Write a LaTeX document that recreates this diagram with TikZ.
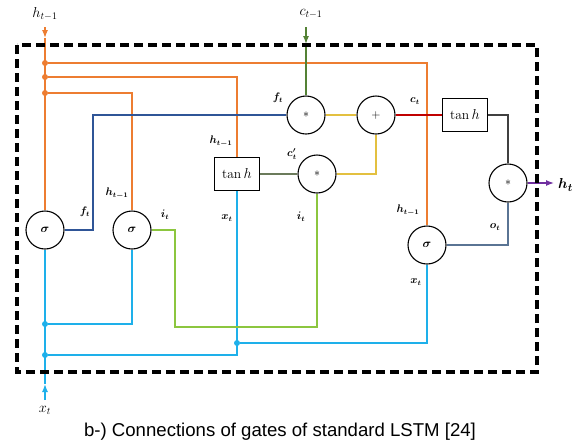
\documentclass[tikz,border=0pt]{standalone}
\usepackage{amsmath}
\usepackage{bm}
\usepackage{fontspec}
\newfontfamily\capfont{Liberation Sans}
\usetikzlibrary{arrows.meta}
\definecolor{corange}{HTML}{ED7D31}
\definecolor{cnavy}{HTML}{2F5597}
\definecolor{ccyan}{HTML}{1EB0EA}
\definecolor{clgreen}{HTML}{8CC63F}
\definecolor{cgold}{HTML}{E3C040}
\definecolor{cred}{HTML}{C00000}
\definecolor{cdgray}{HTML}{404040}
\definecolor{colive}{HTML}{6B7B5B}
\definecolor{cslate}{HTML}{5A7494}
\definecolor{cdgreen}{HTML}{548235}
\definecolor{cpurple}{HTML}{7030A0}
\begin{document}
\begin{tikzpicture}[x=1pt,y=-1pt,
  circ/.style={circle, draw=black, line width=1.1pt, minimum size=38pt, inner sep=0pt, font=\fontsize{13}{15}\selectfont},
  tbox/.style={draw=black, line width=1pt, minimum width=45pt, minimum height=33pt, inner sep=0pt, font=\fontsize{13.5}{15}\selectfont},
  lab/.style={inner sep=0pt, font=\fontsize{10.5}{12}\selectfont},
  biglab/.style={inner sep=0pt, font=\fontsize{14}{16}\selectfont},
  jdot/.style={circle, fill, inner sep=0pt, minimum size=6pt},
  conn/.style={line width=1.1pt},
  arr/.style={line width=1.3pt, -{Latex[length=8pt,width=6pt]}}
]
\useasboundingbox (0,0) rectangle (577,445);

% nodes
\node[circ] (sig1) at (45,230) {$\bm{\sigma}$};
\node[circ] (sig2) at (132,230) {$\bm{\sigma}$};
\node[circ] (sig3) at (427,245) {$\bm{\sigma}$};
\node[circ] (m1) at (306,115) {$*$};
\node[circ] (plus) at (376,115) {$+$};
\node[circ] (m2) at (317,174) {$*$};
\node[circ] (m3) at (508,183) {$*$};
\node[tbox] (box1) at (237,174) {$\tan h$};
\node[tbox] (box2) at (465,115) {$\tan h$};

% orange h_{t-1}
\coordinate (htop) at (45,27);
\coordinate (htip) at (45,38);
\node[jdot, corange] (od1) at (45,63) {};
\node[jdot, corange] (od2) at (45,77) {};
\node[jdot, corange] (od3) at (45,93) {};
\draw[arr, corange] (htop) -- (htip);
\draw[conn, corange] (htip) -- (sig1.north);
\draw[conn, corange] (od1) -| (sig3.north);
\draw[conn, corange] (od2) -| (box1.north);
\draw[conn, corange] (od3) -| (sig2.north);

% cyan x_t
\coordinate (xbot) at (45,400);
\coordinate (xtip) at (45,384);
\node[jdot, ccyan] (xd1) at (45,324) {};
\node[jdot, ccyan] (xd2) at (45,355) {};
\node[jdot, ccyan] (xd3) at (237,343) {};
\draw[arr, ccyan] (xbot) -- (xtip);
\draw[conn, ccyan] (xtip) -- (sig1.south);
\draw[conn, ccyan] (xd1) -| (sig2.south);
\draw[conn, ccyan] (xd2) -| (box1.south);
\draw[conn, ccyan] (xd3) -| (sig3.south);

% navy f_t
\coordinate (n1) at (93,230);
\coordinate (n2) at (93,115);
\draw[conn, cnavy] (sig1.east) -- (n1) -- (n2) -- (m1.west);

% green i_t
\coordinate (g1) at (175,230);
\coordinate (g2) at (175,327);
\draw[conn, clgreen] (sig2.east) -- (g1) -- (g2) -| (m2.south);

% c_{t-1}
\coordinate (ctop) at (306,27);
\coordinate (ctip) at (306,44);
\draw[arr, cdgreen] (ctop) -- (ctip);
\draw[conn, cdgreen] (ctip) -- (m1.north);

% cell path
\draw[conn, cgold] (m1.east) -- (plus.west);
\draw[conn, cgold] (m2.east) -| (plus.south);
\draw[conn, colive] (box1.east) -- (m2.west);
\draw[conn, cred] (plus.east) -- (box2.west);
\draw[conn, cdgray] (box2.east) -| (m3.north);
\draw[conn, cslate] (sig3.east) -| (m3.south);
\coordinate (hout) at (554,183);
\draw[arr, cpurple] (m3.east) -- (hout);

% dashed frame
\draw[line width=3.2pt, dash pattern=on 9pt off 5pt] (17,45) rectangle (537,372);

% labels
\node[biglab] (lh) at (45,14) {$h_{t-1}$};
\node[biglab] (lc) at (311,14) {$c_{t-1}$};
\node[biglab] (lx) at (45,410) {$x_t$};
\node[biglab, font=\fontsize{15}{17}\selectfont, anchor=west] (lht) at (558,185) {$\bm{h_t}$};
\node[lab] (lf1) at (278,98) {$\bm{f_t}$};
\node[lab] (lct) at (415,101) {$\bm{c_t}$};
\node[lab] (lhb) at (221,141) {$\bm{h_{t-1}}$};
\node[lab] (lcp) at (292,154) {$\bm{c'_t}$};
\node[lab] (lh2) at (117,193) {$\bm{h_{t-1}}$};
\node[lab] (lf2) at (85,212) {$\bm{f_t}$};
\node[lab] (li2) at (165,215) {$\bm{i_t}$};
\node[lab] (lxb) at (227,218) {$\bm{x_t}$};
\node[lab] (lim) at (301,217) {$\bm{i_t}$};
\node[lab] (lh3) at (408,210) {$\bm{h_{t-1}}$};
\node[lab] (lo) at (495,227) {$\bm{o_t}$};
\node[lab] (lx3) at (416,282) {$\bm{x_t}$};

% caption
\node[inner sep=0pt, font=\capfont\fontsize{18.6}{22}\selectfont] (cap) at (280,432) {b-) Connections of gates of standard LSTM [24]};
\end{tikzpicture}
\end{document}
